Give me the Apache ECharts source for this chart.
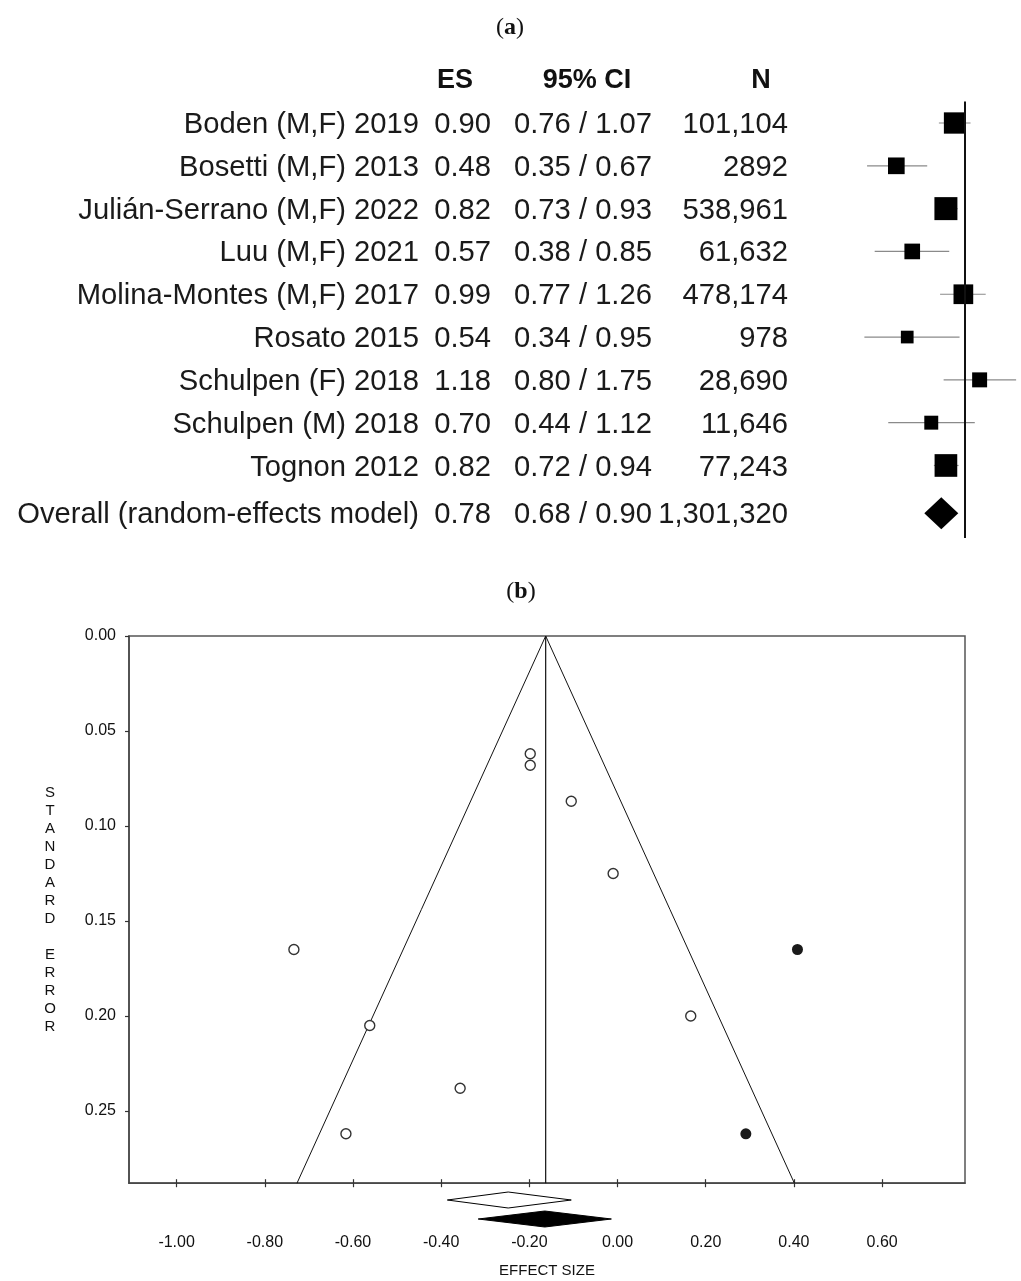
<!DOCTYPE html>
<html><head><meta charset="utf-8">
<script src="https://cdn.jsdelivr.net/npm/echarts@6/dist/echarts.min.js"></script>
<style>html,body{margin:0;padding:0;background:#fff}#c{width:1021px;height:1281px}</style>
</head><body><div id="c"></div>
<script>
// ---------- (a) forest plot data ----------
const headerLabels = ['ES', '95% CI', 'N'];
const studyNames = ['Boden (M,F) 2019', 'Bosetti (M,F) 2013', 'Julián-Serrano (M,F) 2022', 'Luu (M,F) 2021',
  'Molina-Montes (M,F) 2017', 'Rosato 2015', 'Schulpen (F) 2018', 'Schulpen (M) 2018', 'Tognon 2012'];
const studyES = [0.90, 0.48, 0.82, 0.57, 0.99, 0.54, 1.18, 0.70, 0.82];
const studyCILow = [0.76, 0.35, 0.73, 0.38, 0.77, 0.34, 0.80, 0.44, 0.72];
const studyCIHigh = [1.07, 0.67, 0.93, 0.85, 1.26, 0.95, 1.75, 1.12, 0.94];
const studyN = ['101,104', '2892', '538,961', '61,632', '478,174', '978', '28,690', '11,646', '77,243'];
const studyWeight = [15.2, 9.3, 17.7, 8.2, 13.0, 5.4, 7.5, 6.5, 17.2];
const overallLabel = 'Overall (random-effects model)';
const overallES = 0.78;
const overallCILow = 0.68;
const overallCIHigh = 0.90;
const overallN = '1,301,320';

// ---------- (b) funnel plot data (log effect size vs standard error) ----------
const funnelObsX = [-0.105, -0.734, -0.198, -0.562, -0.010, -0.616, 0.166, -0.357, -0.198];
const funnelObsSE = [0.087, 0.165, 0.062, 0.205, 0.125, 0.262, 0.200, 0.238, 0.068];
const funnelImpX = [0.408, 0.291];
const funnelImpSE = [0.165, 0.262];
const funnelCenter = -0.163;
const funnelBaseSE = 0.288;
const funnelLimitsAtBase = [-0.727, 0.401];
const pooledObserved = [-0.386, -0.248, -0.105];
const pooledAdjusted = [-0.316, -0.165, -0.014];
const xTicks = [-1.0, -0.8, -0.6, -0.4, -0.2, 0, 0.2, 0.4, 0.6];
const yTicks = [0, 0.05, 0.10, 0.15, 0.20, 0.25];
const xAxisTitle = 'EFFECT SIZE';
const yAxisTitle = 'STANDARD ERROR';

// ---------- layout ----------
const SANS = '"Liberation Sans", Arial, sans-serif';
const SERIF = '"Liberation Serif", "Times New Roman", serif';
const overallRow = 9.117;
const headerRow = -1.05;
const textShift = 2;
const fMinX = Math.log(0.2613), fMaxX = Math.log(1.8447);
const bMinX = -1.108, bMaxX = 0.788;

const rows = studyNames.map((n, i) => ({
  name: n, es: studyES[i], lo: studyCILow[i], hi: studyCIHigh[i], n: studyN[i], w: studyWeight[i], row: i
}));
rows.push({ name: overallLabel, es: overallES, lo: overallCILow, hi: overallCIHigh, n: overallN, row: overallRow, overall: true });

const textData = rows.map((r, i) => [0, r.row, i]);
textData.push([0, headerRow, -1]);

const chart = echarts.init(document.getElementById('c'), null, { renderer: 'canvas' });

const titleRich = { p: { fontFamily: SERIF, fontSize: 24, fill: '#111' }, b: { fontFamily: SERIF, fontSize: 24, fontWeight: 'bold', fill: '#111' } };

const option = {
  animation: false,
  backgroundColor: '#fff',
  graphic: [
    { type: 'text', x: 510, y: 28, style: { text: '{p|(}{b|a}{p|)}', align: 'center', verticalAlign: 'middle', rich: titleRich } },
    { type: 'text', x: 521, y: 592, style: { text: '{p|(}{b|b}{p|)}', align: 'center', verticalAlign: 'middle', rich: titleRich } }
  ],
  grid: [
    { left: 840, width: 181, top: 101.6, height: 436.4, outerBoundsMode: 'none' },
    { left: 129, width: 836, top: 636, height: 547.2, show: true, borderColor: '#555', borderWidth: 1.5, outerBoundsMode: 'none' },
    { left: 129, width: 836, top: 1190.5, height: 57, outerBoundsMode: 'none' }
  ],
  xAxis: [
    { gridIndex: 0, type: 'value', min: fMinX, max: fMaxX, show: false },
    { gridIndex: 1, type: 'value', min: bMinX, max: bMaxX, position: 'bottom',
      axisLine: { show: true, onZero: false, lineStyle: { color: '#444', width: 1.5 } },
      axisTick: { show: true, customValues: xTicks, length: 4, lineStyle: { color: '#333', width: 1.2 } },
      axisLabel: { show: true, customValues: xTicks, formatter: v => v.toFixed(2), margin: 51, fontSize: 16, fontFamily: SANS, color: '#111' },
      splitLine: { show: false },
      name: xAxisTitle, nameLocation: 'middle', nameGap: 80,
      nameTextStyle: { fontSize: 15, fontFamily: SANS, color: '#111' } },
    { gridIndex: 1, type: 'value', min: bMinX, max: bMaxX, position: 'bottom',
      axisLine: { show: false, onZero: false }, axisLabel: { show: false }, splitLine: { show: false },
      axisTick: { show: true, inside: true, customValues: xTicks, length: 4, lineStyle: { color: '#333', width: 1.2 } } },
    { gridIndex: 2, type: 'value', min: bMinX, max: bMaxX, show: false }
  ],
  yAxis: [
    { gridIndex: 0, type: 'value', inverse: true, min: -0.5, max: 9.694, show: false },
    { gridIndex: 1, type: 'value', inverse: true, min: 0, max: funnelBaseSE, position: 'left',
      axisLine: { show: true, onZero: false, lineStyle: { color: '#444', width: 1.5 } },
      axisTick: { show: true, customValues: yTicks, length: 4, lineStyle: { color: '#333', width: 1.2 } },
      axisLabel: { show: true, customValues: yTicks, formatter: v => v.toFixed(2), margin: 13, fontSize: 16, fontFamily: SANS, color: '#111' },
      splitLine: { show: false },
      name: yAxisTitle.split('').join('\n'), nameLocation: 'middle', nameRotate: 0, nameGap: 79,
      nameTextStyle: { fontSize: 15, lineHeight: 18, fontFamily: SANS, color: '#111', align: 'center' } },
    { gridIndex: 2, type: 'value', inverse: true, min: -0.5, max: 2.5, show: false }
  ],
  series: [
    // forest: CI whiskers + reference line at ES = 1
    { type: 'custom', xAxisIndex: 0, yAxisIndex: 0, clip: false, z: 2,
      data: rows.filter(r => !r.overall).map(r => [Math.log(r.lo), Math.log(r.hi), r.row]),
      encode: { x: [0, 1], y: 2 },
      renderItem: (params, api) => {
        const a = api.coord([api.value(0), api.value(2)]);
        const b = api.coord([api.value(1), api.value(2)]);
        return { type: 'line', shape: { x1: a[0], y1: a[1], x2: b[0], y2: b[1] },
          style: { stroke: '#8a8a8a', lineWidth: 1.2 } };
      },
      markLine: { silent: true, symbol: 'none', label: { show: false },
        lineStyle: { color: '#111', width: 2, type: 'solid', opacity: 1 }, data: [{ xAxis: 0 }] } },
    // forest: weighted squares
    { type: 'scatter', xAxisIndex: 0, yAxisIndex: 0, z: 3, symbol: 'rect',
      data: rows.filter(r => !r.overall).map(r => [Math.log(r.es), r.row, r.w]),
      symbolSize: v => 23 * Math.sqrt(v[2] / 17.7),
      itemStyle: { color: '#000', opacity: 1 } },
    // forest: overall diamond
    { type: 'scatter', xAxisIndex: 0, yAxisIndex: 0, z: 3, symbol: 'diamond', symbolSize: [34, 32],
      data: [[Math.log(overallES), overallRow]], itemStyle: { color: '#000', opacity: 1 } },
    // forest: table text
    { type: 'custom', xAxisIndex: 0, yAxisIndex: 0, clip: false, z: 4,
      data: textData, encode: { x: 0, y: 1 },
      renderItem: (params, api) => {
        const y = api.coord([0, api.value(1)])[1] + textShift;
        const idx = api.value(2);
        const base = { fontFamily: SANS, fontSize: 29.2, fill: '#1a1a1a', verticalAlign: 'middle' };
        if (idx < 0) {
          const hb = { fontFamily: SANS, fontSize: 27, fontWeight: 'bold', fill: '#111', verticalAlign: 'middle', align: 'center' };
          return { type: 'group', children: [
            { type: 'text', style: Object.assign({}, hb, { text: headerLabels[0], x: 455, y: y }) },
            { type: 'text', style: Object.assign({}, hb, { text: headerLabels[1], x: 587, y: y }) },
            { type: 'text', style: Object.assign({}, hb, { text: headerLabels[2], x: 761, y: y }) }
          ] };
        }
        const r = rows[idx];
        return { type: 'group', children: [
          { type: 'text', style: Object.assign({}, base, { text: r.name, x: 419, y: y, align: 'right' }) },
          { type: 'text', style: Object.assign({}, base, { text: r.es.toFixed(2), x: 491, y: y, align: 'right' }) },
          { type: 'text', style: Object.assign({}, base, { text: r.lo.toFixed(2) + ' / ' + r.hi.toFixed(2), x: 514, y: y, align: 'left' }) },
          { type: 'text', style: Object.assign({}, base, { text: r.n, x: 788, y: y, align: 'right' }) }
        ] };
      } },
    // funnel: pseudo confidence limits
    { type: 'line', xAxisIndex: 1, yAxisIndex: 1, symbol: 'none', z: 2,
      data: [[funnelLimitsAtBase[0], funnelBaseSE], [funnelCenter, 0], [funnelLimitsAtBase[1], funnelBaseSE]],
      lineStyle: { color: '#111', width: 1 } },
    { type: 'line', xAxisIndex: 1, yAxisIndex: 1, symbol: 'none', z: 2,
      data: [[funnelCenter, 0], [funnelCenter, funnelBaseSE]],
      lineStyle: { color: '#111', width: 1.2 } },
    // funnel: observed studies (hollow)
    { type: 'scatter', xAxisIndex: 1, yAxisIndex: 1, z: 3, symbol: 'circle', symbolSize: 10,
      data: funnelObsX.map((x, i) => [x, funnelObsSE[i]]),
      itemStyle: { color: '#fff', borderColor: '#333', borderWidth: 1.4, opacity: 1 } },
    // funnel: imputed studies (filled)
    { type: 'scatter', xAxisIndex: 1, yAxisIndex: 1, z: 3, symbol: 'circle', symbolSize: 11,
      data: funnelImpX.map((x, i) => [x, funnelImpSE[i]]),
      itemStyle: { color: '#1a1a1a', opacity: 1 } },
    // pooled estimate diamonds below the axis
    { type: 'custom', xAxisIndex: 3, yAxisIndex: 2, clip: false, z: 3,
      data: [[pooledObserved[0], pooledObserved[1], pooledObserved[2], 0, 0], [pooledAdjusted[0], pooledAdjusted[1], pooledAdjusted[2], 1, 1]],
      encode: { x: [0, 1, 2], y: 3 },
      renderItem: (params, api) => {
        const row = api.value(3);
        const a = api.coord([api.value(0), row]);
        const c = api.coord([api.value(1), row]);
        const b = api.coord([api.value(2), row]);
        const h = 8;
        const filled = api.value(4) === 1;
        return { type: 'polygon', shape: { points: [[a[0], a[1]], [c[0], c[1] - h], [b[0], b[1]], [c[0], c[1] + h]] },
          style: { fill: filled ? '#000' : '#fff', stroke: '#000', lineWidth: 1 } };
      } }
  ]
};
chart.setOption(option);
</script>
</body></html>
